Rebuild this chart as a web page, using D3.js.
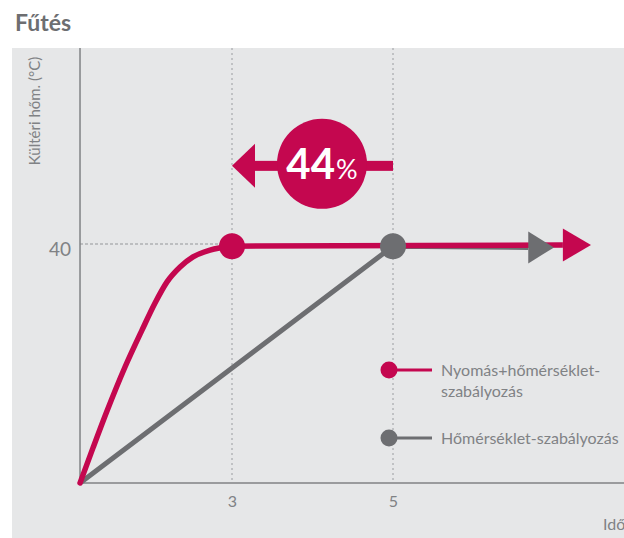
<!DOCTYPE html>
<html><head><meta charset="utf-8">
<script src="https://cdn.jsdelivr.net/npm/d3@7/dist/d3.min.js"></script>
<style>body{margin:0;background:#fff}svg text{font-family:Lato,"Open Sans",sans-serif}</style>
</head><body>
<svg id="chart" width="624" height="538"></svg>
<script>
// ---- data ----
const title = "Fűtés";
const yLabel = "Kültéri hőm. (°C)";
const xLabel = "Idő";
const xTicks = [3, 5];
const yTicks = [40];
const seriesNames = ["Nyomás+hőmérséklet-szabályozás", "Hőmérséklet-szabályozás"];
const legendLines = [["Nyomás+hőmérséklet-", "szabályozás"], ["Hőmérséklet-szabályozás"]];
const redTime = [1.112, 1.273, 1.447, 1.671, 1.882, 2.044, 2.193, 2.355, 2.516, 2.727, 3.0];
const redTemp = [0, 5.9, 12.1, 19.5, 25.7, 30.25, 33.8, 36.3, 38.0, 39.15, 39.8];
const redFlatTime = [3.0, 7.11];
const redFlatTemp = [39.8, 40];
const grayTime = [1.112, 5.0, 6.68];
const grayTemp = [0, 39.8, 39.6];
const redMarker = [3, 39.8];
const grayMarker = [5, 39.8];
const redArrowEnd = [7.11, 7.46, 40];
const grayArrowEnd = [6.68, 7.0, 39.6];
const savingFrom = 5, savingTo = 3, savingTemp = 53.3, savingValue = "44";

// ---- styles ----
const RED = "#c4074f", GRAY = "#6d6e71", BG = "#e6e7e8", TXT = "#808285";

const svg = d3.select("#chart");
svg.append("rect").attr("x", 12).attr("y", 48).attr("width", 612).attr("height", 490).attr("fill", BG);

const x = d3.scaleLinear().domain([3, 5]).range([232, 393]);
const y = d3.scaleLinear().domain([0, 40]).range([483, 245]);
const xMin = 1.112, yMax = y.invert(48);

svg.append("text").attr("x", 15).attr("y", 31).text(title)
  .attr("font-size", 23).attr("font-weight", 700).attr("fill", GRAY);

// grid dotted verticals
svg.selectAll(".vgrid").data(xTicks).join("line")
  .attr("x1", d => x(d)).attr("x2", d => x(d))
  .attr("y1", y(yMax)).attr("y2", y(0))
  .attr("stroke", "#a7a9ac").attr("stroke-width", 1.2).attr("stroke-dasharray", "2,3");
// dashed horizontal at 40
svg.selectAll(".hgrid").data(yTicks).join("line")
  .attr("x1", x(xMin)).attr("x2", x(redMarker[0]))
  .attr("y1", d => y(d) - 1).attr("y2", d => y(d) - 1)
  .attr("stroke", "#939598").attr("stroke-width", 1).attr("stroke-dasharray", "3,2");

// axes
const xAxis = d3.axisBottom(x).tickValues(xTicks).tickFormat(d3.format("d")).tickSize(0).tickPadding(13);
const gx = svg.append("g").attr("transform", `translate(0,${y(0)})`).call(xAxis);
gx.select(".domain").attr("d", `M${x(xMin)},0H640`).attr("stroke", "#808285").attr("stroke-width", 1.5);
gx.selectAll("text").attr("font-size", 16).attr("fill", TXT).attr("font-family", "Lato");

const yAxis = d3.axisLeft(y).tickValues(yTicks).tickSize(0).tickPadding(9);
const gy = svg.append("g").attr("transform", `translate(${x(xMin)},0)`).call(yAxis);
gy.select(".domain").attr("d", `M0,${y(yMax)}V${y(0)}`).attr("stroke", "#808285").attr("stroke-width", 1.5);
gy.selectAll("text").attr("font-size", 19).attr("fill", TXT).attr("font-family", "Lato").attr("dy", "0.55em");

svg.append("text").attr("transform", `translate(40,111) rotate(-90)`)
  .attr("text-anchor", "middle").attr("font-size", 15).attr("fill", TXT).text(yLabel);
svg.append("text").attr("x", 603).attr("y", 530).attr("font-size", 16).attr("fill", TXT).text(xLabel);

// series lines
const line = d3.line().x(d => x(d[0])).y(d => y(d[1]));
const grayPts = grayTime.map((t, i) => [t, grayTemp[i]]);
const redPts = redTime.map((t, i) => [t, redTemp[i]]);
const redFlat = redFlatTime.map((t, i) => [t, redFlatTemp[i]]);
svg.append("path").attr("d", line(grayPts)).attr("fill", "none")
  .attr("stroke", GRAY).attr("stroke-width", 5);
const redCurve = d3.line().x(d => x(d[0])).y(d => y(d[1])).curve(d3.curveMonotoneX);
svg.append("path").attr("d", redCurve(redPts)).attr("fill", "none")
  .attr("stroke", RED).attr("stroke-width", 5.5).attr("stroke-linecap", "round");
svg.append("path").attr("d", line(redFlat)).attr("fill", "none")
  .attr("stroke", RED).attr("stroke-width", 5.5);

// arrow heads
function tri(a, color, h) {
  const x0 = x(a[0]), x1 = x(a[1]), yc = y(a[2]);
  svg.append("path").attr("d", `M${x0},${yc - h / 2}L${x1},${yc}L${x0},${yc + h / 2}Z`).attr("fill", color);
}
tri(grayArrowEnd, GRAY, 32);
tri(redArrowEnd, RED, 33);

// markers
svg.append("circle").attr("cx", x(grayMarker[0])).attr("cy", y(grayMarker[1])).attr("r", 13).attr("fill", GRAY);
svg.append("circle").attr("cx", x(redMarker[0])).attr("cy", y(redMarker[1])).attr("r", 13).attr("fill", RED);

// saving arrow
const ay = y(savingTemp);
svg.append("rect").attr("x", x(savingTo) + 20).attr("y", ay - 5)
  .attr("width", x(savingFrom) - x(savingTo) - 20).attr("height", 10).attr("fill", RED);
svg.append("path").attr("d", `M${x(savingTo)},${ay}L${x(savingTo) + 23},${ay - 22}L${x(savingTo) + 23},${ay + 22}Z`).attr("fill", RED);
const bx = (x(savingTo) + x(savingFrom)) / 2 + 9.5;
svg.append("circle").attr("cx", bx).attr("cy", ay - 2).attr("r", 45).attr("fill", RED);
const bt = svg.append("text").attr("x", bx).attr("y", ay + 13).attr("text-anchor", "middle").attr("fill", "#fff");
bt.append("tspan").attr("font-size", 42).attr("font-weight", 700).text(savingValue);
bt.append("tspan").attr("font-size", 27).attr("dx", 1).text("%");

// legend
const legColors = [RED, GRAY];
const legY = [370, 438];
seriesNames.forEach((name, i) => {
  const g = svg.append("g").attr("transform", `translate(389,${legY[i]})`);
  g.append("line").attr("x1", 0).attr("x2", 43).attr("stroke", legColors[i]).attr("stroke-width", 3);
  g.append("circle").attr("r", 8.5).attr("fill", legColors[i]);
  const t = g.append("text").attr("x", 52).attr("y", 6).attr("font-size", 16).attr("fill", TXT);
  legendLines[i].forEach((s, j) => t.append("tspan").attr("x", 52).attr("dy", j ? 21 : 0).text(s));
});
</script>
</body></html>
